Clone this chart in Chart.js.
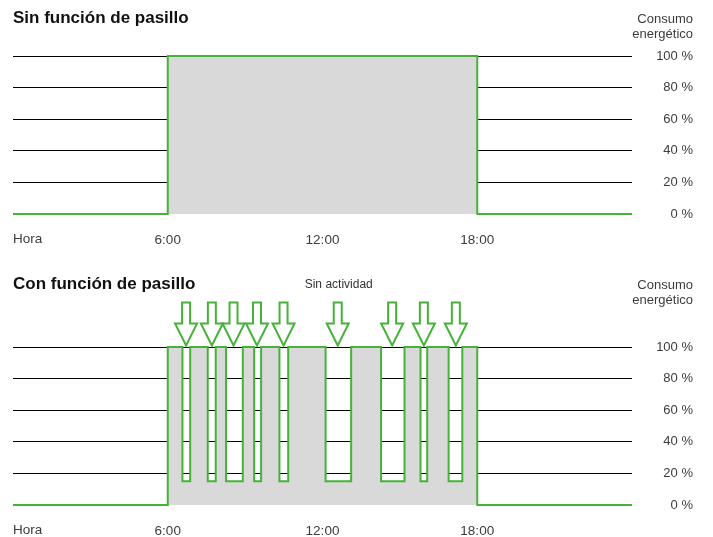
<!DOCTYPE html>
<html>
<head>
<meta charset="utf-8">
<script src="https://cdn.jsdelivr.net/npm/chart.js@4.4.1/dist/chart.umd.min.js"></script>
<style>
  html, body { margin: 0; padding: 0; background: #fff; }
  #wrap { position: relative; width: 713px; height: 537px; }
  #top { position: absolute; left: 0; top: 0; }
  #bottom { position: absolute; left: 0; top: 268px; }
</style>
</head>
<body>
<div id="wrap">
  <canvas id="top" width="713" height="268"></canvas>
  <canvas id="bottom" width="713" height="269"></canvas>
</div>
<script>
// horas del dia (eje x) y nivel de consumo en %
var sinHours = [0, 6, 18, 24];
var sinLevels = [0, 100, 0, 0];

var conHours = [0, 6, 6.57, 6.87, 7.55, 7.86, 8.26, 8.91, 9.35, 9.62, 10.33, 10.67, 12.12, 13.11, 14.27, 15.18, 15.80, 16.06, 16.89, 17.42, 18, 24];
var conLevels = [0, 100, 15, 100, 15, 100, 15, 100, 15, 100, 15, 100, 15, 100, 15, 100, 15, 100, 15, 100, 0, 0];

// detecciones de movimiento (flechas)
var arrowHours = [6.71, 7.71, 8.55, 9.46, 10.49, 12.59, 14.70, 15.93, 17.17];
var noActivityIndex = 5;

var xTicks = [6, 12, 18];
var yTicks = [0, 20, 40, 60, 80, 100];

var green = "rgb(70,178,58)";
var fillGray = "#d9d9d9";
var textGray = "#3c3c3c";
var fontFam = "'Liberation Sans', Arial, sans-serif";

var textPlugin = {
	id: "texts",
	afterDatasetsDraw: function(chart) {
		var o = chart.options.plugins.texts;
		if (!o.arrows) return;
		var ctx = chart.ctx;
		var xs = chart.scales.x, ys = chart.scales.y;
		var tip = ys.getPixelForValue(100) - 1.5;
		ctx.save();
		ctx.strokeStyle = green;
		ctx.fillStyle = "#fff";
		ctx.lineWidth = 2;
		ctx.lineJoin = "miter";
		for (var i = 0; i < o.arrows.length; i++) {
			var x = xs.getPixelForValue(o.arrows[i]);
			ctx.beginPath();
			ctx.moveTo(x - 4, tip - 43);
			ctx.lineTo(x + 4, tip - 43);
			ctx.lineTo(x + 4, tip - 22);
			ctx.lineTo(x + 11, tip - 22);
			ctx.lineTo(x, tip);
			ctx.lineTo(x - 11, tip - 22);
			ctx.lineTo(x - 4, tip - 22);
			ctx.closePath();
			ctx.fill();
			ctx.stroke();
		}
		if (o.noteIndex != null) {
			ctx.fillStyle = "#333";
			ctx.font = "12px " + fontFam;
			ctx.textAlign = "center";
			ctx.textBaseline = "middle";
			ctx.fillText(o.note, xs.getPixelForValue(o.arrows[o.noteIndex]) + 1, o.noteY);
		}
		ctx.restore();
	},
	afterDraw: function(chart) {
		var o = chart.options.plugins.texts;
		var ctx = chart.ctx;
		var area = chart.chartArea;
		ctx.save();
		ctx.textBaseline = "middle";
		ctx.fillStyle = "#111";
		ctx.font = "bold 17px " + fontFam;
		ctx.textAlign = "left";
		ctx.fillText(o.title, 13, o.titleY);

		ctx.fillStyle = textGray;
		ctx.font = "13px " + fontFam;
		ctx.textAlign = "right";
		ctx.fillText("Consumo", 693, o.titleY + 1);
		ctx.fillText("energético", 693, o.titleY + 16.5);

		ctx.font = "13.5px " + fontFam;
		ctx.textAlign = "left";
		ctx.fillText("Hora", area.left, area.bottom + 25);
		ctx.restore();
	}
};

function makeChart(id, hours, levels, extra) {
	var points = [];
	for (var i = 0; i < hours.length; i++) {
		points.push({x: hours[i], y: levels[i]});
	}
	return new Chart(document.getElementById(id), {
		type: "line",
		data: {
			datasets: [{
				data: points,
				stepped: "before",
				borderColor: green,
				borderWidth: 2,
				backgroundColor: fillGray,
				fill: "origin",
				pointRadius: 0,
				clip: false
			}]
		},
		options: {
			responsive: false,
			animation: false,
			layout: {padding: {left: 13, right: 20, top: extra.top, bottom: extra.bottom}},
			plugins: {
				legend: {display: false},
				tooltip: {enabled: false},
				texts: extra
			},
			scales: {
				x: {
					type: "linear",
					min: 0,
					max: 24,
					afterBuildTicks: function(axis) {
						axis.ticks = xTicks.map(function(v) { return {value: v}; });
					},
					afterFit: function(s) { s.height = extra.axisH; },
					grid: {display: false, drawTicks: false},
					border: {display: false},
					ticks: {
						padding: 18,
						maxRotation: 0,
						autoSkip: false,
						color: textGray,
						font: {family: fontFam, size: 13.5},
						callback: function(v) { return v + ":00"; }
					}
				},
				y: {
					position: "right",
					min: 0,
					max: 100,
					afterBuildTicks: function(axis) {
						axis.ticks = yTicks.map(function(v) { return {value: v}; });
					},
					afterFit: function(s) { s.width = 61; },
					grid: {
						drawTicks: false,
						lineWidth: 1,
						color: function(c) { return c.tick && c.tick.value === 0 ? "rgba(0,0,0,0)" : "#000"; }
					},
					border: {display: false},
					ticks: {
						padding: 24,
						crossAlign: "far",
						color: textGray,
						font: {family: fontFam, size: 13},
						callback: function(v) { return v + " %"; }
					}
				}
			}
		},
		plugins: [textPlugin]
	});
}

makeChart("top", sinHours, sinLevels, {
	title: "Sin función de pasillo",
	titleY: 18,
	top: 56,
	bottom: 14,
	axisH: 40
});

makeChart("bottom", conHours, conLevels, {
	title: "Con función de pasillo",
	titleY: 16,
	top: 79,
	bottom: 0,
	axisH: 32,
	arrows: arrowHours,
	noteIndex: noActivityIndex,
	note: "Sin actividad",
	noteY: 17
});
</script>
</body>
</html>
